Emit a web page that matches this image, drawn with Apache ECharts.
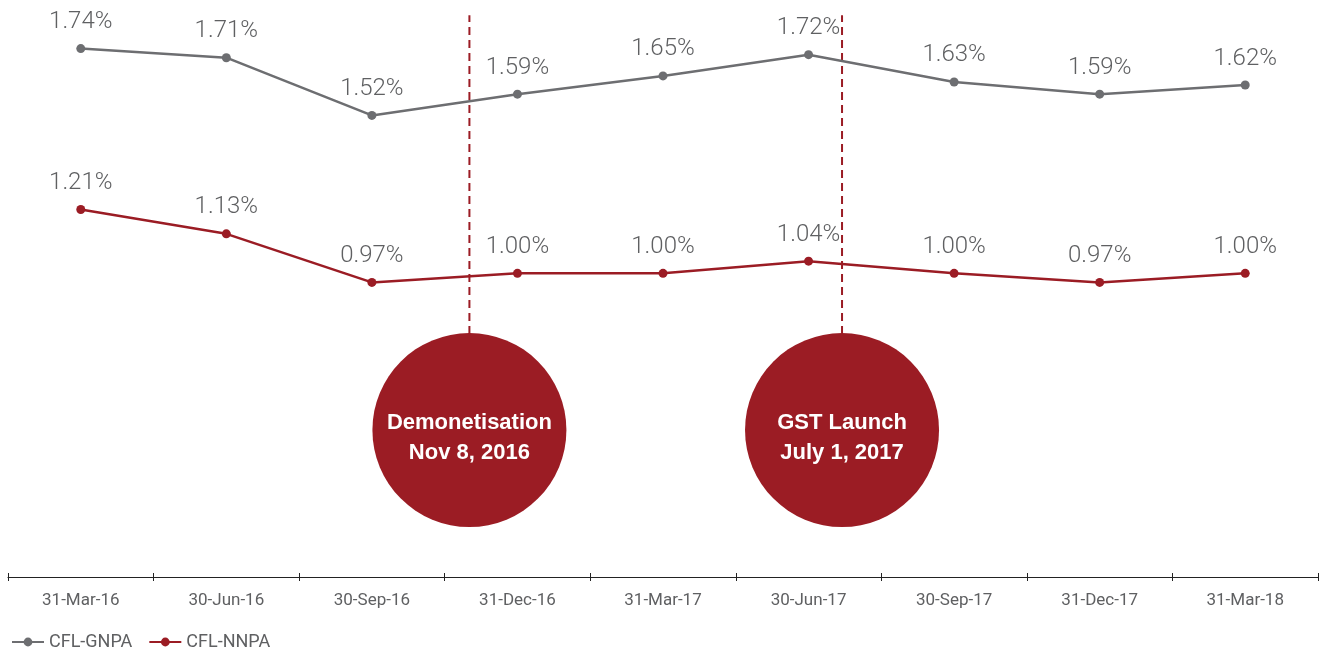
<!DOCTYPE html>
<html>
<head>
<meta charset="utf-8">
<script src="https://cdn.jsdelivr.net/npm/echarts@6/dist/echarts.min.js"></script>
<style>
  html, body { margin: 0; padding: 0; background: #fff; }
  #main { width: 1323px; height: 650px; }
</style>
</head>
<body>
<div id="main"></div>
<script>
// quarter ends
var quarters = ['31-Mar-16', '30-Jun-16', '30-Sep-16', '31-Dec-16', '31-Mar-17',
  '30-Jun-17', '30-Sep-17', '31-Dec-17', '31-Mar-18'];
var gnpa = [1.74, 1.71, 1.52, 1.59, 1.65, 1.72, 1.63, 1.59, 1.62];
var nnpa = [1.21, 1.13, 0.97, 1.00, 1.00, 1.04, 1.00, 0.97, 1.00];

// events, placed by fractional quarter index
var eventNames = ['Demonetisation\nNov 8, 2016', 'GST Launch\nJuly 1, 2017'];
var eventPos = [2.67, 5.23];

var gray = '#6d6e71';
var textGray = '#5f6062';
var red = '#9b1c24';

var chartDom = document.getElementById('main');
var myChart = echarts.init(chartDom);

var dashData = [];
eventPos.forEach(function (p) {
  dashData.push([p, 0.8], [p, 1.85], null);
});
var bubbleData = eventPos.map(function (p, i) {
  return { value: [p, 0.484], name: eventNames[i] };
});

var pctLabel = function (p) { return p.value.toFixed(2) + '%'; };

var option = {
  animation: false,
  grid: { left: 8, right: 5, top: 0, bottom: 73 },
  legend: {
    left: 6,
    top: 628,
    itemWidth: 32,
    itemHeight: 11,
    itemGap: 16,
    textStyle: { color: textGray, fontSize: 18, fontFamily: 'Roboto' },
    data: ['CFL-GNPA', 'CFL-NNPA']
  },
  xAxis: [
    {
      type: 'category',
      data: quarters,
      boundaryGap: true,
      axisLine: { lineStyle: { color: '#222', width: 1.2 } },
      axisTick: { show: true, length: 4, lineStyle: { color: '#222' } },
      axisLabel: { color: textGray, fontSize: 17, fontFamily: 'Roboto', margin: 15 }
    },
    {
      type: 'category',
      data: quarters,
      position: 'bottom',
      boundaryGap: true,
      axisLine: { show: false },
      axisTick: { show: true, inside: true, length: 4, lineStyle: { color: '#222' } },
      axisLabel: { show: false }
    },
    {
      type: 'value',
      min: -0.5,
      max: 8.5,
      show: false
    }
  ],
  yAxis: {
    type: 'value',
    min: 0,
    max: 1.9,
    show: false,
    splitLine: { show: false }
  },
  series: [
    {
      name: 'CFL-GNPA',
      type: 'line',
      data: gnpa,
      color: gray,
      symbol: 'circle',
      symbolSize: 9,
      lineStyle: { width: 2.5, color: gray },
      label: {
        show: true, position: 'top', distance: 10, formatter: pctLabel,
        color: textGray, fontSize: 24, fontFamily: 'Roboto', fontWeight: 300
      }
    },
    {
      name: 'CFL-NNPA',
      type: 'line',
      data: nnpa,
      color: red,
      symbol: 'circle',
      symbolSize: 9,
      lineStyle: { width: 2.5, color: red },
      label: {
        show: true, position: 'top', distance: 10, formatter: pctLabel,
        color: textGray, fontSize: 24, fontFamily: 'Roboto', fontWeight: 300
      }
    },
    {
      type: 'line',
      xAxisIndex: 2,
      data: dashData,
      symbol: 'none',
      silent: true,
      lineStyle: { color: red, width: 2, type: [8, 5] },
      z: 1
    },
    {
      type: 'scatter',
      xAxisIndex: 2,
      data: bubbleData,
      symbol: 'circle',
      symbolSize: 194,
      itemStyle: { color: red, opacity: 1 },
      label: {
        show: true,
        position: 'inside',
        offset: [0, 8],
        formatter: '{b}',
        color: '#fff',
        fontSize: 22,
        fontWeight: 'bold',
        fontFamily: 'Liberation Sans',
        lineHeight: 30
      },
      z: 3
    }
  ]
};

myChart.setOption(option);
</script>
</body>
</html>
